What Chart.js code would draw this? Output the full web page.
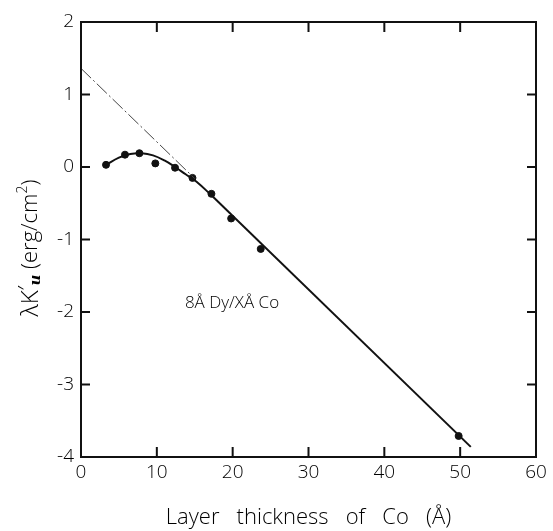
<!DOCTYPE html>
<html>
<head>
<meta charset="utf-8">
<script src="https://cdn.jsdelivr.net/npm/chart.js@4"></script>
<style>
  html, body { margin: 0; padding: 0; background: #fff; }
  #wrap { width: 553px; height: 531px; }
</style>
</head>
<body>
<div id="wrap"><canvas id="chart" width="553" height="531"></canvas></div>
<script>
// measured points
const pointsX = [3.3, 5.8, 7.7, 9.8, 12.4, 14.7, 17.2, 19.8, 23.7, 49.8];
const pointsY = [0.03, 0.17, 0.19, 0.05, -0.01, -0.15, -0.37, -0.71, -1.13, -3.71];

// smooth curve through the thin-layer points
const curveX = [3.3, 5.0, 6.5, 8.0, 9.5, 11.0, 12.4, 13.8, 15.2, 17.2];
const curveY = [0.03, 0.13, 0.18, 0.19, 0.16, 0.09, 0.0, -0.1, -0.2, -0.39];

// straight fit for thick layers
const lineX = [17.2, 51.4];
const lineY = [-0.39, -3.86];

// extrapolation to zero thickness
const dashX = [0, 15];
const dashY = [1.36, -0.16];

const xTicks = [0, 10, 20, 30, 40, 50, 60];
const yTicks = [2, 1, 0, -1, -2, -3, -4];

const FONT = "'Open Sans', 'DejaVu Sans', sans-serif";

function toXY(xs, ys) {
  return xs.map((x, i) => ({ x: x, y: ys[i] }));
}

// frame, inward ticks, axis label and annotation
const decorations = {
  id: "decorations",
  afterDraw(chart) {
    const ctx = chart.ctx;
    const a = chart.chartArea;
    const sx = chart.scales.x;
    const sy = chart.scales.y;
    ctx.save();
    ctx.strokeStyle = "#111";
    ctx.lineWidth = 2;
    ctx.strokeRect(a.left, a.top, a.right - a.left, a.bottom - a.top);

    ctx.beginPath();
    xTicks.forEach(v => {
      const px = sx.getPixelForValue(v);
      if (v === 0 || v === 60) return;
      ctx.moveTo(px, a.bottom); ctx.lineTo(px, a.bottom - 10);
      ctx.moveTo(px, a.top); ctx.lineTo(px, a.top + 10);
    });
    yTicks.forEach(v => {
      const py = sy.getPixelForValue(v);
      if (v === 2 || v === -4) return;
      ctx.moveTo(a.left, py); ctx.lineTo(a.left + 9, py);
      ctx.moveTo(a.right, py); ctx.lineTo(a.right - 9, py);
    });
    ctx.stroke();

    // annotation
    ctx.fillStyle = "#000";
    ctx.font = "300 17px " + FONT;
    ctx.textAlign = "left";
    ctx.textBaseline = "middle";
    ctx.fillText("8Å Dy/XÅ Co", sx.getPixelForValue(13.7), sy.getPixelForValue(-1.875));

    // rotated y axis title with sub/superscript
    const parts = [
      { t: "λK", f: "300 24px " + FONT, dy: 0 },
      { t: "′", f: "300 22px " + FONT, dy: -3 },
      { t: "u", f: "italic bold 15px 'DejaVu Serif', serif", dy: 5 },
      { t: " (erg/cm", f: "300 22px " + FONT, dy: 0 },
      { t: "2", f: "300 14px " + FONT, dy: -8 },
      { t: ")", f: "300 22px " + FONT, dy: 0 }
    ];
    let total = 0;
    parts.forEach(p => { ctx.font = p.f; p.w = ctx.measureText(p.t).width; total += p.w; });
    ctx.translate(31, 248);
    ctx.rotate(-Math.PI / 2);
    ctx.textAlign = "left";
    ctx.textBaseline = "middle";
    let x = -total / 2;
    parts.forEach(p => {
      ctx.font = p.f;
      ctx.fillText(p.t, x, p.dy);
      x += p.w;
    });
    ctx.restore();
  }
};

new Chart(document.getElementById("chart"), {
  type: "scatter",
  data: {
    datasets: [
      {
        label: "extrapolation",
        data: toXY(dashX, dashY),
        showLine: true,
        borderColor: "#444",
        borderWidth: 1,
        borderDash: [14, 3, 2, 3],
        pointRadius: 0,
        fill: false
      },
      {
        label: "curve",
        data: toXY(curveX, curveY),
        showLine: true,
        borderColor: "#111",
        borderWidth: 2,
        tension: 0.4,
        pointRadius: 0,
        fill: false
      },
      {
        label: "fit",
        data: toXY(lineX, lineY),
        showLine: true,
        borderColor: "#111",
        borderWidth: 2,
        pointRadius: 0,
        fill: false
      },
      {
        label: "data",
        data: toXY(pointsX, pointsY),
        showLine: false,
        backgroundColor: "#111",
        borderColor: "#111",
        pointRadius: 3.5,
        pointHoverRadius: 3.5
      }
    ]
  },
  options: {
    responsive: false,
    animation: false,
    events: [],
    layout: { padding: { left: 0, right: 17, top: 22, bottom: 0 } },
    plugins: {
      legend: { display: false },
      tooltip: { enabled: false }
    },
    scales: {
      x: {
        type: "linear",
        min: 0,
        max: 60,
        afterFit(scale) { scale.height = 74; },
        afterBuildTicks(scale) { scale.ticks = xTicks.map(v => ({ value: v })); },
        grid: { display: false, drawTicks: false },
        border: { display: false },
        ticks: {
          padding: 4,
          color: "#000",
          font: { family: FONT, size: 19, weight: 300 }
        },
        title: {
          display: true,
          text: "Layer   thickness   of   Co   (Å)",
          color: "#000",
          font: { family: FONT, size: 22, weight: 300 },
          padding: { top: 15, bottom: 0 }
        }
      },
      y: {
        type: "linear",
        min: -4,
        max: 2,
        afterFit(scale) { scale.width = 81; },
        afterBuildTicks(scale) { scale.ticks = yTicks.map(v => ({ value: v })); },
        grid: { display: false, drawTicks: false },
        border: { display: false },
        ticks: {
          padding: 7,
          color: "#000",
          font: { family: FONT, size: 19, weight: 300 }
        }
      }
    }
  },
  plugins: [decorations]
});
</script>
</body>
</html>
